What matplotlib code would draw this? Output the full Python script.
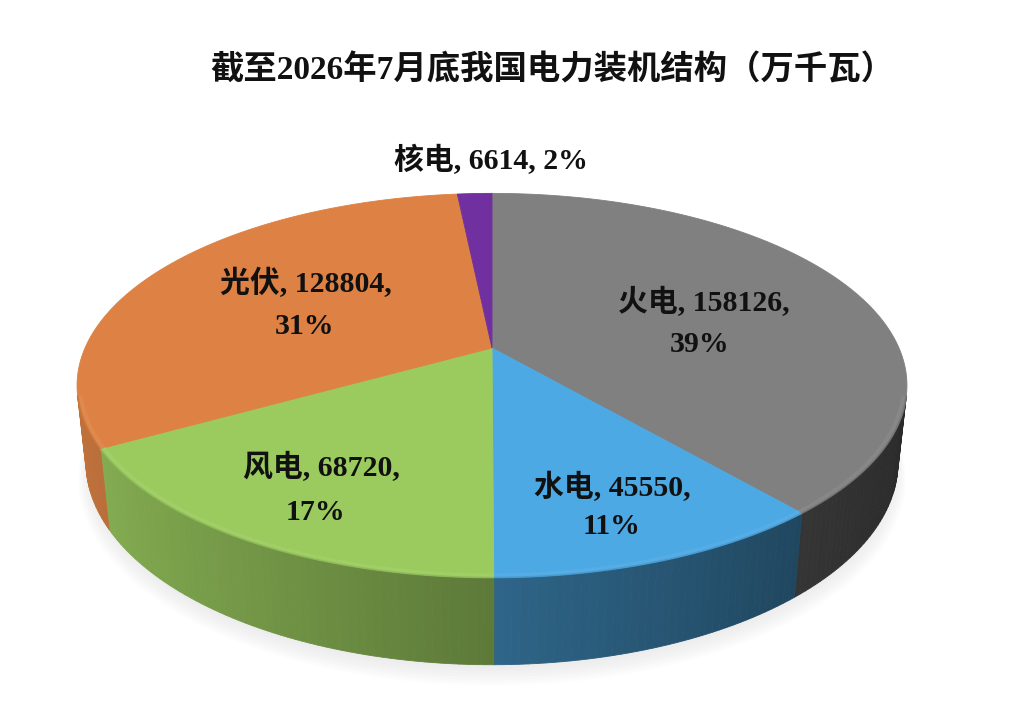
import numpy as np
import matplotlib
matplotlib.use("Agg")
import matplotlib.pyplot as plt
from matplotlib.patches import Polygon

# data (万千瓦)
NAMES = ["火电", "水电", "风电", "光伏", "核电"]
VALUES = [158126, 45550, 68720, 128804, 6614]
PCTS = [39, 11, 17, 31, 2]  # as printed on the chart
TITLE = "截至2026年7月底我国电力装机结构（万千瓦）"

TOP_COLORS = ["#808080", "#4DA9E4", "#9BCB5F", "#DD8244", "#7030A0"]

# label anchors in pixel space (line 1, line 2)
LABEL_POS = {
    "火电": [(704, 302), (700, 345)],
    "水电": [(612, 487), (612, 527)],
    "风电": [(321, 467), (315, 512)],
    "光伏": [(306, 283), (305, 327)],
    "核电": [(491, 160)],
}

# fake 3-D camera: elevation, distance, focal length, screen centre, disc thickness
ELEV = np.radians(27)
DIST = 4.57
FOCAL = 1860
CX, CY = 492, 348
THICK = 0.212

FONT = ["Liberation Serif", "Noto Sans CJK SC"]
plt.rcParams["font.family"] = FONT


def project(theta, r, z):
    # theta measured clockwise from the far side of the disc
    X = r * np.sin(theta)
    Y = r * np.cos(theta)
    yc = Y * np.sin(ELEV) + z * np.cos(ELEV)
    d = DIST + Y * np.cos(ELEV) - z * np.sin(ELEV)
    return CX + FOCAL * X / d, CY - FOCAL * yc / d


def shade(color, k):
    rgb = np.array(matplotlib.colors.to_rgb(color))
    if k >= 1:
        return tuple(rgb + (1 - rgb) * (k - 1))
    return tuple(rgb * k)


fig = plt.figure(figsize=(10.2, 7.1), dpi=100)
ax = fig.add_axes([0, 0, 1, 1])
ax.set_xlim(0, 1020)
ax.set_ylim(710, 0)
ax.axis("off")

total = sum(VALUES)
fracs = np.array(VALUES) / total
edges = np.concatenate([[0], np.cumsum(fracs)]) * 2 * np.pi

# visible part of the side wall
vis_lo = np.arccos(-1 / (DIST * np.cos(ELEV)))
vis_hi = 2 * np.pi - vis_lo

# soft shadow under the disc
tt = np.linspace(0, 2 * np.pi, 200)
for k in range(8):
    sx, sy = project(tt, 0.99 + 0.004 * k, -THICK)
    ax.add_patch(Polygon(np.column_stack([sx, sy + 4 + 1.6 * k]), closed=True,
                         facecolor="#a0a0a0", edgecolor="none", alpha=0.022, zorder=1))

# side wall, drawn in thin strips so it can be shaded
for i, col in enumerate(TOP_COLORS):
    a0 = max(edges[i], vis_lo)
    a1 = min(edges[i + 1], vis_hi)
    if a1 <= a0:
        continue
    steps = np.linspace(a0, a1, max(2, int(np.degrees(a1 - a0)) + 1))
    for t0, t1 in zip(steps[:-1], steps[1:]):
        tm = 0.5 * (t0 + t1)
        k = 0.6 - 0.28 * np.sin(tm)
        c = shade(col, k)
        x0, y0 = project(t0, 1, 0)
        x1, y1 = project(t1, 1, 0)
        x2, y2 = project(t1, 1, -THICK)
        x3, y3 = project(t0, 1, -THICK)
        ax.add_patch(Polygon([(x0, y0), (x1, y1), (x2, y2), (x3, y3)], closed=True,
                             facecolor=c, edgecolor=c, lw=0.6, zorder=2))

# top faces
for i, col in enumerate(TOP_COLORS):
    t = np.linspace(edges[i], edges[i + 1], 120)
    sx, sy = project(t, 1, 0)
    pts = np.column_stack([np.r_[CX, sx], np.r_[CY, sy]])
    ax.add_patch(Polygon(pts, closed=True, facecolor=col, edgecolor=col, lw=0.6, zorder=3))

    # soft bevel along the front rim
    a0 = max(edges[i], vis_lo)
    a1 = min(edges[i + 1], vis_hi)
    if a1 > a0:
        t = np.linspace(a0, a1, 80)
        sx, sy = project(t, 0.993, 0)
        ax.plot(sx, sy, color=shade(col, 1.07), lw=3.0, alpha=0.8,
                solid_capstyle="butt", zorder=4)
        sx, sy = project(t, 1.0, 0)
        ax.plot(sx, sy, color=shade(col, 0.9), lw=1.2, alpha=0.8,
                solid_capstyle="butt", zorder=4)

# title
ax.text(552, 70, TITLE, ha="center", va="center", fontsize=24, fontweight="bold",
        color="#111111", zorder=6)

# data labels
for name, v, p in zip(NAMES, VALUES, PCTS):
    pos = LABEL_POS[name]
    if len(pos) == 1:
        lines = [f"{name}, {v}, {p}%"]
    else:
        lines = [f"{name}, {v},", f"{p}%"]
    for (x, y), s in zip(pos, lines):
        ax.text(x, y, s, ha="center", va="center", fontsize=21.5, fontweight="bold",
                color="#111111", zorder=6)

fig.savefig("out.png", dpi=100, facecolor="white")
